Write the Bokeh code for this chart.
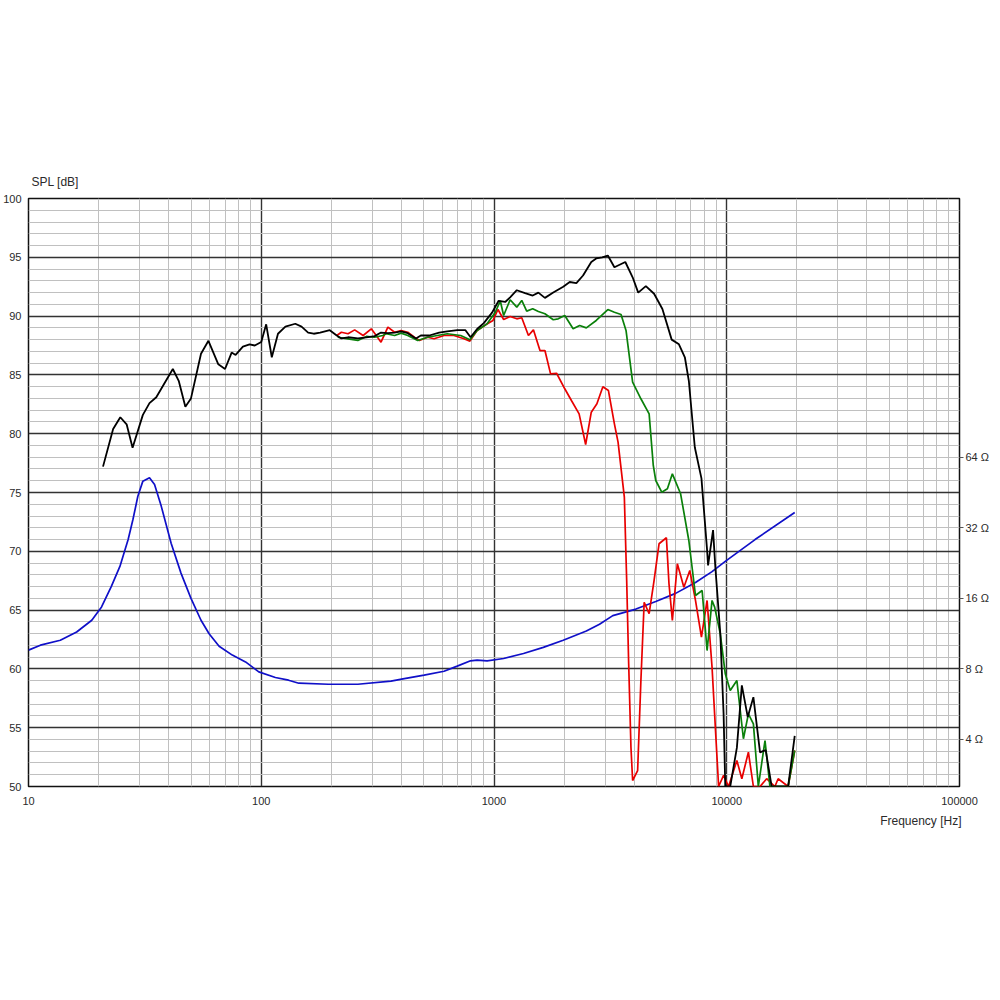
from bokeh.plotting import figure
from bokeh.models import Range1d, LogAxis, FixedTicker, LogScale, Title
from bokeh.embed import file_html
from bokeh.resources import INLINE

# ---------------- data ----------------
black_freq = [20.9, 23.1, 24.8, 26.4, 28.0, 31.0, 33.1, 35.4, 41.7, 44.2, 47.2, 49.9, 55.1, 59.3, 65.4, 69.9,
              74.6, 77.6, 83.4, 89.1, 93.8, 100, 105, 111, 118, 127, 140, 149, 159, 168, 179, 197, 211, 221,
              236, 260, 283, 307, 327, 350, 374, 399, 426, 462, 485, 527, 581, 630, 696, 754, 793, 846, 904,
              981, 1047, 1117, 1173, 1253, 1360, 1467, 1551, 1655, 1797, 1983, 2115, 2259, 2413, 2618, 2749,
              2916, 3084, 3291, 3666, 3941, 4165, 4492, 4873, 5291, 5799, 6231, 6607, 6872, 7290, 7786, 8232,
              8313, 8733, 8933, 9382, 9691, 9855, 10350, 11054, 11610, 12312, 13015, 13899, 14700, 15590,
              18350, 19590]
black_spl = [77.2, 80.4, 81.4, 80.8, 78.8, 81.6, 82.6, 83.1, 85.5, 84.5, 82.3, 83.0, 86.8, 87.9, 85.9, 85.5,
             86.9, 86.7, 87.4, 87.6, 87.5, 87.8, 89.3, 86.5, 88.5, 89.1, 89.35, 89.1, 88.6, 88.5, 88.6, 88.8,
             88.35, 88.1, 88.2, 88.1, 88.2, 88.3, 88.6, 88.55, 88.6, 88.7, 88.55, 88.1, 88.35, 88.35, 88.6,
             88.7, 88.8, 88.8, 88.2, 88.9, 89.4, 90.3, 91.3, 91.2, 91.6, 92.2, 91.95, 91.75, 92.0, 91.55, 92.0,
             92.5, 92.9, 92.8, 93.45, 94.6, 94.9, 95.0, 95.15, 94.15, 94.6, 93.3, 92.0, 92.55, 91.9, 90.6,
             88.0, 87.6, 86.5, 84.5, 78.85, 76.2, 70.1, 68.8, 71.8, 68.65, 63.0, 56.2, 50.0, 50.0, 53.3, 58.6,
             55.9, 57.6, 52.9, 53.1, 50.0, 50.0, 54.3]

green_freq = [213, 236, 260, 283, 307, 333, 344, 374, 399, 426, 470, 518, 571, 630, 719, 788, 846, 934, 1013,
              1064, 1100, 1173, 1253, 1316, 1382, 1467, 1551, 1655, 1797, 1887, 2014, 2187, 2334, 2493, 2749,
              3084, 3291, 3514, 3692, 3941, 4277, 4640, 4834, 4955, 5256, 5559, 5839, 6335, 6872, 7340, 7838,
              8232, 8646, 8872, 9382, 9855, 10350, 11054, 11793, 12388, 13015, 13666, 14600, 15330, 18350,
              19590]
green_spl = [88.2, 88.07, 87.93, 88.27, 88.2, 88.35, 88.5, 88.35, 88.55, 88.35, 87.93, 88.2, 88.35, 88.5,
             88.35, 87.98, 88.78, 89.35, 90.33, 91.3, 90.05, 91.39, 90.76, 91.33, 90.42, 90.62, 90.39, 90.2,
             89.69, 89.77, 90.05, 88.92, 89.2, 89.0, 89.63, 90.56, 90.33, 90.14, 88.78, 84.38, 82.97, 81.69,
             77.3, 76.02, 75.03, 75.31, 76.59, 74.89, 70.92, 66.24, 66.67, 61.56, 65.82, 65.25, 62.98, 59.58,
             58.16, 59.01, 54.06, 56.18, 55.33, 50.0, 53.91, 50.0, 50.0, 53.06]

red_freq = [211, 221, 236, 252, 274, 297, 312, 327, 350, 374, 399, 426, 455, 478, 518, 553, 610, 673, 743,
            788, 846, 925, 990, 1040, 1100, 1173, 1253, 1316, 1406, 1477, 1576, 1655, 1750, 1857, 2014, 2151,
            2321, 2476, 2618, 2768, 2936, 3102, 3291, 3412, 3631, 3716, 3790, 3876, 3941, 4141, 4277, 4418,
            4640, 4873, 5118, 5505, 5647, 5839, 6134, 6543, 6939, 7340, 7786, 8232, 8646, 9226, 9691, 10180,
            11054, 11610, 12388, 13015, 13899, 14840, 16100, 16630, 18350, 19590]
red_spl = [88.35, 88.63, 88.5, 88.83, 88.35, 88.92, 88.35, 87.78, 89.06, 88.63, 88.78, 88.63, 88.2, 87.93,
           88.2, 88.07, 88.35, 88.35, 88.07, 87.87, 88.78, 89.29, 89.63, 90.56, 89.71, 89.97, 89.77, 89.86,
           88.35, 88.83, 87.07, 87.07, 85.09, 85.14, 83.82, 82.82, 81.69, 79.08, 81.83, 82.54, 83.99, 83.67,
           80.84, 79.28, 74.6, 67.52, 60.43, 53.34, 50.51, 51.36, 59.01, 65.67, 64.69, 67.52, 70.64, 71.15,
           67.24, 64.12, 68.94, 66.95, 68.37, 65.82, 62.7, 65.82, 60.14, 50.0, 50.94, 50.0, 52.21, 50.66,
           52.92, 50.0, 50.0, 50.66, 50.0, 50.66, 50.0, 53.06]

imp_freq = [10, 11.25, 13.7, 16.1, 18.7, 20.6, 22.7, 24.7, 26.8, 28.1, 29.5, 31.0, 33.1, 34.8, 37.2, 41.0,
            45.2, 49.9, 55.1, 59.7, 65.9, 75.1, 85.6, 97.6, 115, 131, 145, 194, 260, 361, 412, 501, 610, 695,
            793, 846, 934, 1100, 1339, 1629, 1983, 2493, 2840, 3239, 4072, 4955, 6030, 7340, 8646, 9855,
            13230, 19590]
imp_ohm = [9.62, 10.1, 10.6, 11.5, 12.9, 14.7, 18.0, 21.9, 28.5, 34.7, 43.6, 50.6, 52.3, 48.9, 39.5, 27.5,
           20.5, 16.0, 12.9, 11.3, 10.0, 9.16, 8.57, 7.77, 7.35, 7.16, 6.95, 6.88, 6.88, 7.09, 7.27, 7.52,
           7.82, 8.22, 8.66, 8.72, 8.66, 8.86, 9.31, 9.88, 10.6, 11.6, 12.4, 13.5, 14.4, 15.5, 16.8, 18.7,
           20.8, 23.0, 28.5, 37.2]

x_major = [10, 100, 1000, 10000, 100000]
x_minor = [m * d for d in [10, 100, 1000, 10000] for m in range(2, 10)]
y_major = list(range(50, 101, 5))
y_minor = [v for v in range(51, 100) if v % 5 != 0]
ohm_ticks = [4, 8, 16, 32, 64]
ohm_labels = {4: "4 Ω", 8: "8 Ω", 16: "16 Ω", 32: "32 Ω", 64: "64 Ω"}

FONT = "Liberation Sans"
TXT = "#2a2a2a"

p = figure(width=992, height=850, x_axis_type="log",
           x_range=Range1d(10, 100000), y_range=Range1d(50, 100),
           output_backend="svg", toolbar_location=None,
           min_border_top=198, min_border_bottom=64, min_border_left=18, min_border_right=0)
p.background_fill_color = "white"
p.border_fill_color = "white"
p.outline_line_color = "#111111"
p.outline_line_width = 1.5

# y-axis caption (top-left) and x-axis caption (bottom-right)
p.title.text = "SPL [dB]"
p.title.align = "left"
p.title.offset = 3
p.title.standoff = 19
p.title.text_font = FONT
p.title.text_font_size = "12px"
p.title.text_font_style = "normal"
p.title.text_color = TXT
p.add_layout(Title(text="Frequency [Hz]", align="right", text_font=FONT, text_font_size="12px",
                   text_font_style="normal", text_color=TXT, offset=-2, standoff=8), "below")

# ticks and grids
xt = FixedTicker(ticks=x_major, minor_ticks=x_minor)
yt = FixedTicker(ticks=y_major, minor_ticks=y_minor)
p.xaxis.ticker = xt
p.yaxis.ticker = yt
p.xgrid.ticker = xt
p.ygrid.ticker = yt
for g in (p.xgrid, p.ygrid):
    g.grid_line_color = "#333333"
    g.grid_line_width = 1.4
    g.minor_grid_line_color = "#c0c0c0"
    g.minor_grid_line_width = 1

for ax in (p.xaxis, p.yaxis):
    ax.axis_line_color = None
    ax.major_tick_line_color = None
    ax.minor_tick_line_color = None
    ax.major_tick_out = 0
    ax.major_tick_in = 0
    ax.major_label_text_font = FONT
    ax.major_label_text_font_size = "11px"
    ax.major_label_text_color = TXT
p.xaxis.major_label_standoff = 6
p.yaxis.major_label_standoff = 3
p.xaxis.major_label_overrides = {10: "10", 100: "100", 1000: "1000", 10000: "10000", 100000: "100000"}

# impedance axis (right)
p.extra_y_ranges = {"imp": Range1d(4 * 2 ** (-4 / 6), 4 * 2 ** (46 / 6))}
p.extra_y_scales = {"imp": LogScale()}
rax = LogAxis(y_range_name="imp", ticker=FixedTicker(ticks=ohm_ticks, minor_ticks=[]),
              major_label_overrides=ohm_labels)
rax.axis_line_color = None
rax.major_tick_line_color = "#555555"
rax.major_tick_out = 4
rax.major_tick_in = 0
rax.minor_tick_line_color = None
rax.major_label_standoff = 2
rax.major_label_text_font = FONT
rax.major_label_text_font_size = "11px"
rax.major_label_text_color = TXT
p.add_layout(rax, "right")

# curves
p.line(imp_freq, imp_ohm, y_range_name="imp", line_color="#1010c8", line_width=1.7)
p.line(red_freq, red_spl, line_color="#e80000", line_width=1.7)
p.line(green_freq, green_spl, line_color="#0a800a", line_width=1.7)
p.line(black_freq, black_spl, line_color="#000000", line_width=1.8)

open("out.html", "w").write(file_html(p, INLINE))
